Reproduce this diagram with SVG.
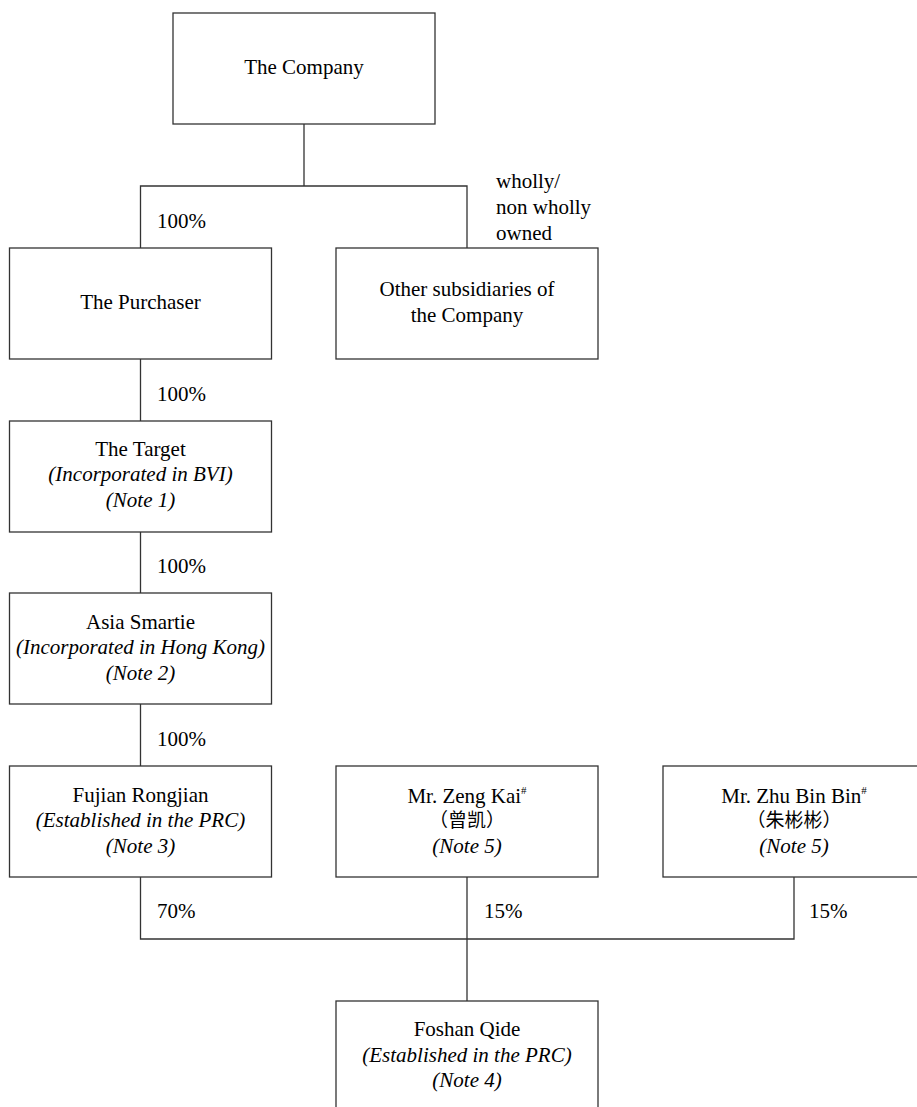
<svg xmlns="http://www.w3.org/2000/svg" width="917" height="1107" viewBox="0 0 917 1107">
<style>
.box{fill:#fff;stroke:#333;stroke-width:1.3}
.ln{fill:none;stroke:#333;stroke-width:1.3}
.t{font-family:'Liberation Serif','DejaVu Serif',serif;font-size:21px;fill:#000}
.c{text-anchor:middle}
.i{font-style:italic}
.cjk{font-family:'Liberation Serif','Noto Sans CJK SC',serif;font-size:19px}
.sup{font-size:11px}
</style>
<rect width="917" height="1107" fill="#fff"/>
<g id="connectors">
<path class="ln" d="M304,124V186M140.5,248V186H467V248"/>
<path class="ln" d="M140.5,359V421M140.5,532V593M140.5,704V766"/>
<path class="ln" d="M140.5,877V939H794V877M467,877V1001"/>
<g class="t" font-family="'Liberation Serif', serif">
<text x="157" y="228">100%</text>
<text x="496" y="188">wholly/</text>
<text x="496" y="214">non wholly</text>
<text x="496" y="240">owned</text>
<text x="157" y="401">100%</text>
<text x="157" y="573">100%</text>
<text x="157" y="746">100%</text>
<text x="157" y="918">70%</text>
<text x="484" y="918">15%</text>
<text x="809" y="918">15%</text>
</g>
</g>
<g id="company" class="t">
<rect class="box" x="173" y="13" width="262" height="111"/>
<text class="c" x="304" y="74">The Company</text>
</g>
<g id="purchaser" class="t">
<rect class="box" x="9.5" y="248" width="262" height="111"/>
<text class="c" x="140.5" y="309">The Purchaser</text>
</g>
<g id="other" class="t">
<rect class="box" x="336" y="248" width="262" height="111"/>
<text class="c" x="467" y="296">Other subsidiaries of</text>
<text class="c" x="467" y="322">the Company</text>
</g>
<g id="target" class="t">
<rect class="box" x="9.5" y="421" width="262" height="111"/>
<text class="c" x="140.5" y="456">The Target</text>
<text class="c i" x="140.5" y="481">(Incorporated in BVI)</text>
<text class="c i" x="140.5" y="507">(Note 1)</text>
</g>
<g id="asia" class="t">
<rect class="box" x="9.5" y="593" width="262" height="111"/>
<text class="c" x="140.5" y="629">Asia Smartie</text>
<text class="c i" x="140.5" y="654">(Incorporated in Hong Kong)</text>
<text class="c i" x="140.5" y="680">(Note 2)</text>
</g>
<g id="fujian" class="t">
<rect class="box" x="9.5" y="766" width="262" height="111"/>
<text class="c" x="140.5" y="802">Fujian Rongjian</text>
<text class="c i" x="140.5" y="827">(Established in the PRC)</text>
<text class="c i" x="140.5" y="853">(Note 3)</text>
</g>
<g id="zeng" class="t">
<rect class="box" x="336" y="766" width="262" height="111"/>
<text class="c" x="467" y="803">Mr. Zeng Kai<tspan class="sup" dy="-9">#</tspan></text>
<text class="c cjk" x="467" y="827">（曾凯）</text>
<text class="c i" x="467" y="853">(Note 5)</text>
</g>
<g id="zhu" class="t">
<rect class="box" x="663" y="766" width="262" height="111"/>
<text class="c" x="794" y="803">Mr. Zhu Bin Bin<tspan class="sup" dy="-9">#</tspan></text>
<text class="c cjk" x="794" y="827">（朱彬彬）</text>
<text class="c i" x="794" y="853">(Note 5)</text>
</g>
<g id="foshan" class="t">
<rect class="box" x="336" y="1001" width="262" height="111"/>
<text class="c" x="467" y="1036">Foshan Qide</text>
<text class="c i" x="467" y="1062">(Established in the PRC)</text>
<text class="c i" x="467" y="1087">(Note 4)</text>
</g>
</svg>
